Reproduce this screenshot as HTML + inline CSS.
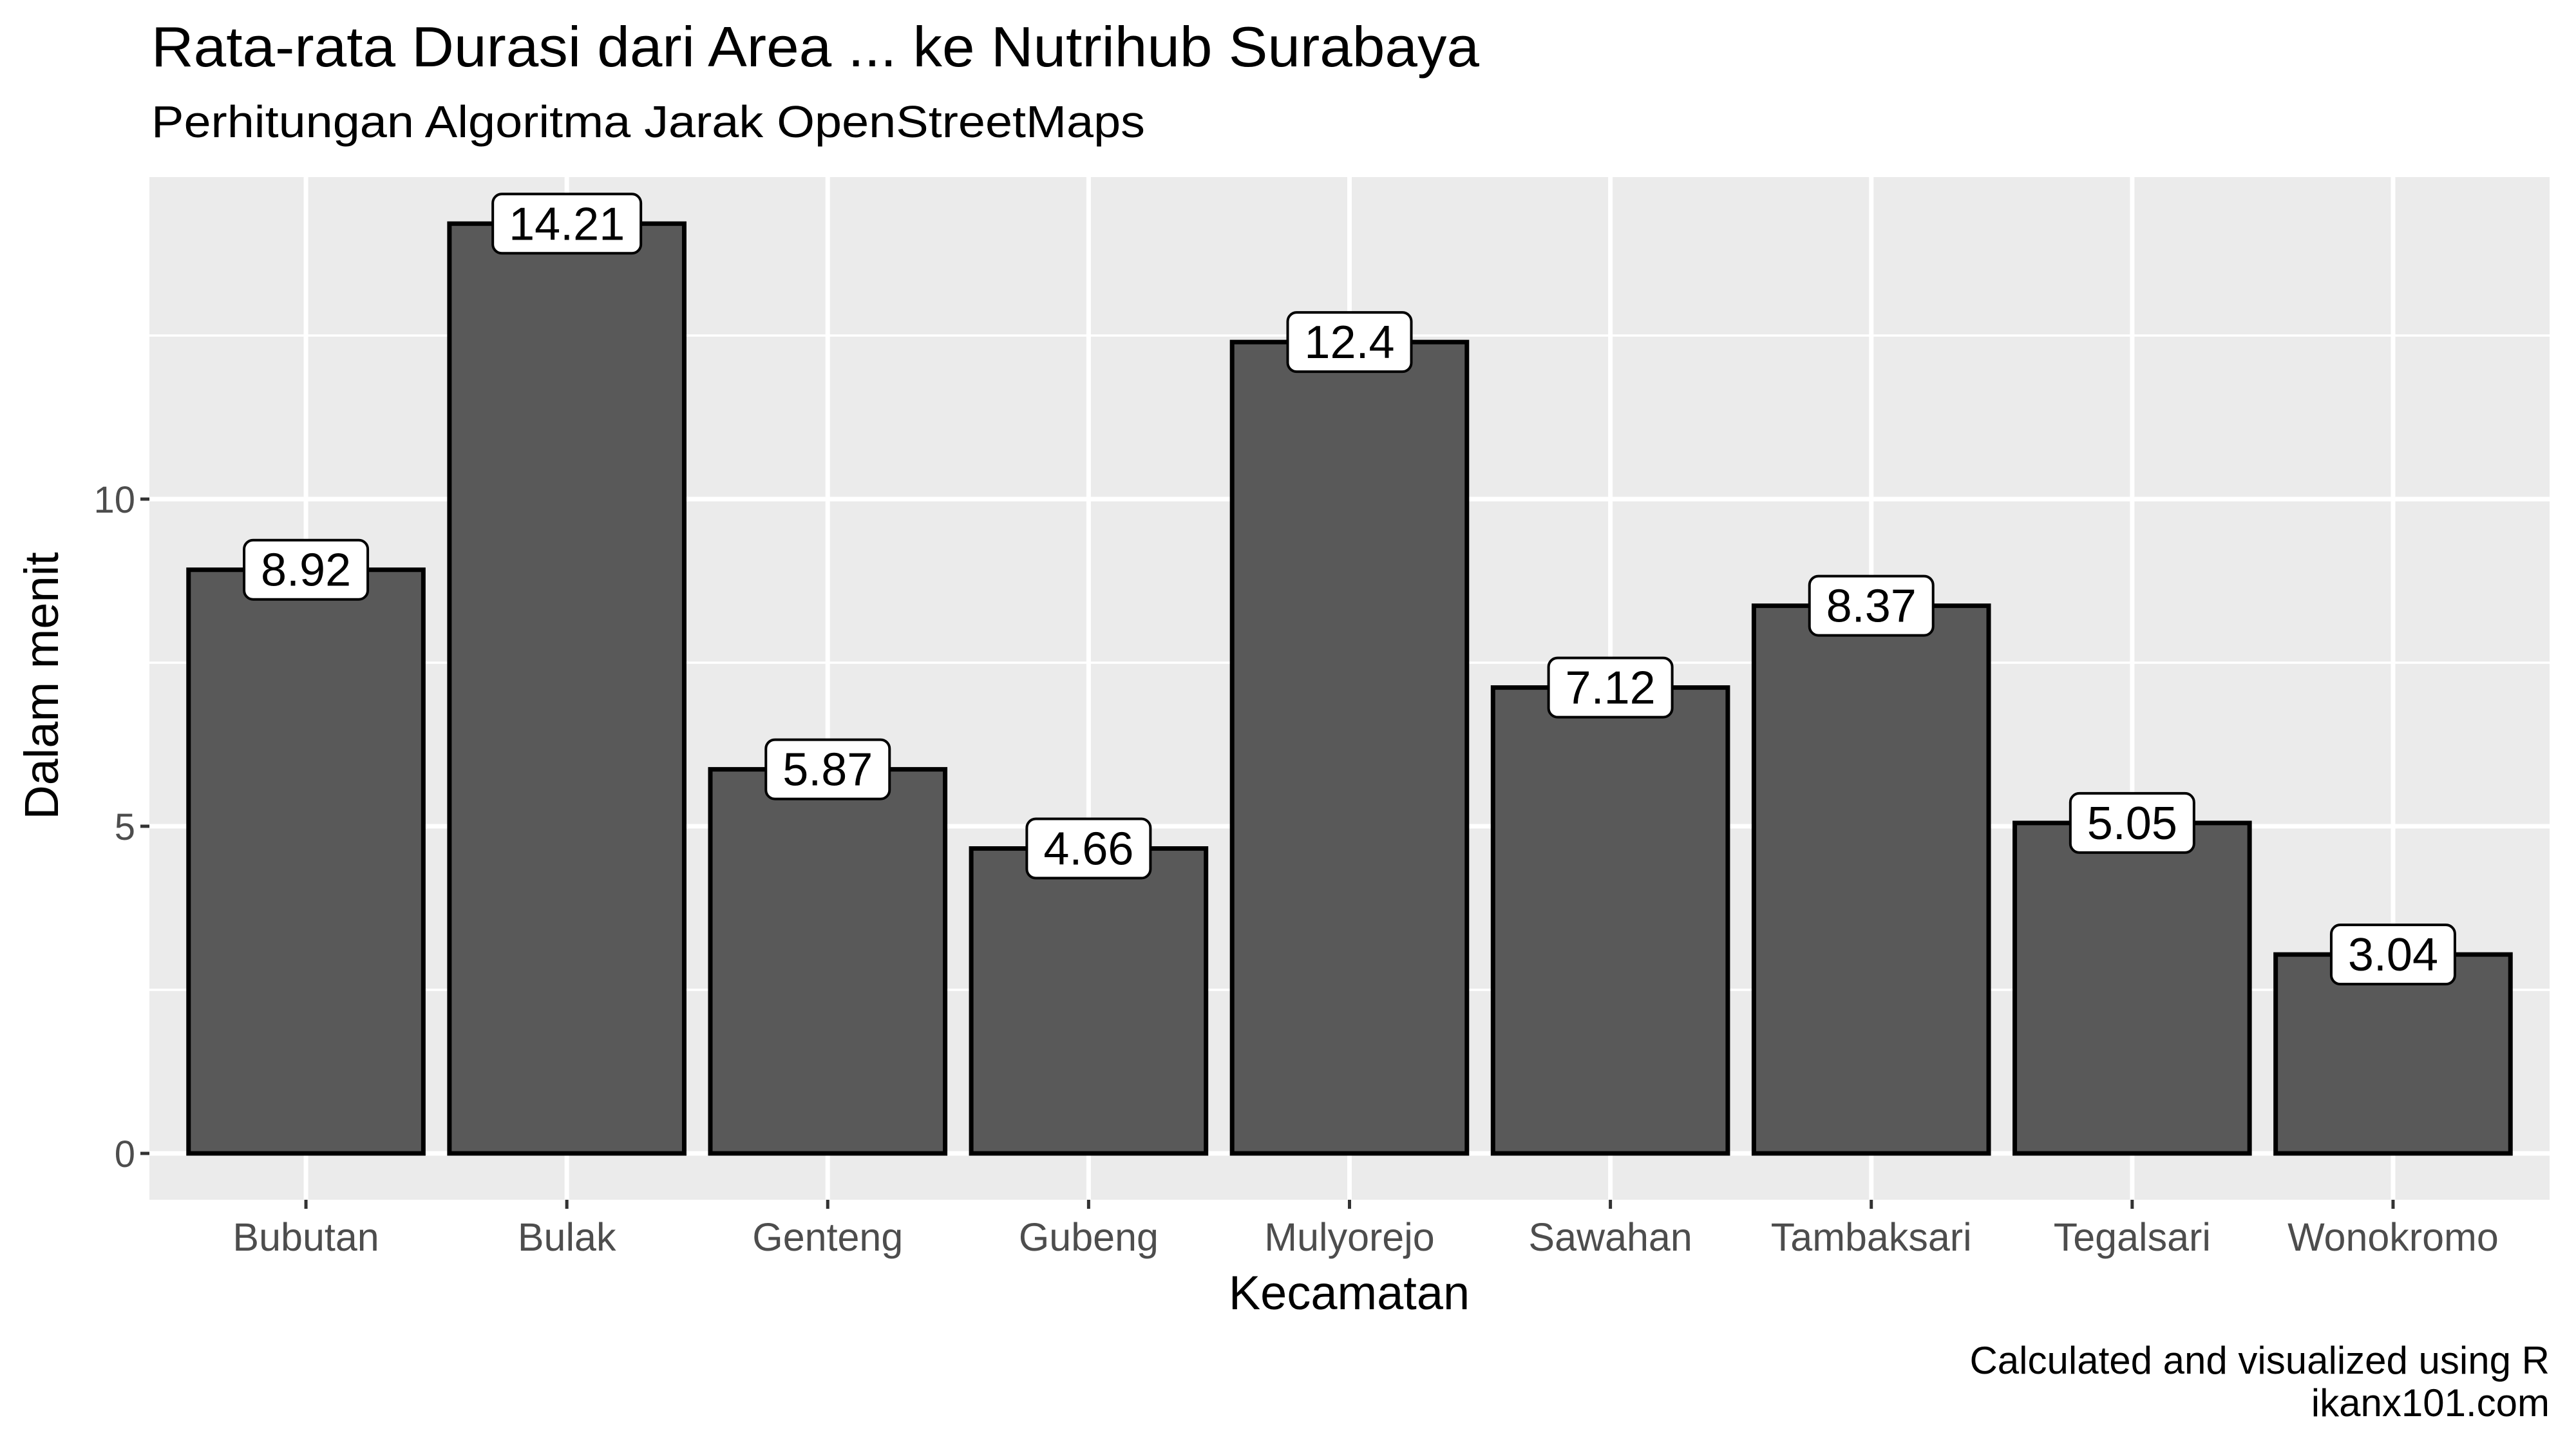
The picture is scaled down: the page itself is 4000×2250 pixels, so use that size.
<!DOCTYPE html>
<html><head><meta charset="utf-8"><style>html,body{margin:0;padding:0;background:#fff}svg{display:block}text{font-family:"Liberation Sans",Arial,sans-serif}</style></head>
<body>
<svg id="chart" width="4000" height="2250" viewBox="0 0 4000 2250" xmlns="http://www.w3.org/2000/svg">
<text x="235" y="103" font-size="88" fill="#000" textLength="2062" lengthAdjust="spacingAndGlyphs">Rata-rata Durasi dari Area ... ke Nutrihub Surabaya</text>
<text x="235" y="213" font-size="70" fill="#000" textLength="1543" lengthAdjust="spacingAndGlyphs">Perhitungan Algoritma Jarak OpenStreetMaps</text>
<rect x="232" y="275" width="3727" height="1588" fill="#EBEBEB"/>
<g id="grid"></g><g id="bars"></g><g id="labels"></g><g id="axes"></g>
<text x="2095" y="2033" font-size="74" text-anchor="middle" fill="#000">Kecamatan</text>
<text transform="translate(90,1065) rotate(-90)" font-size="74" text-anchor="middle" fill="#000">Dalam menit</text>
<text x="3959" y="2133" font-size="60" text-anchor="end" fill="#000">Calculated and visualized using R</text>
<text x="3959" y="2199" font-size="60" text-anchor="end" fill="#000">ikanx101.com</text>
</svg>
<script>
const categories = ["Bubutan","Bulak","Genteng","Gubeng","Mulyorejo","Sawahan","Tambaksari","Tegalsari","Wonokromo"];
const values = [8.92,14.21,5.87,4.66,12.4,7.12,8.37,5.05,3.04];
const valueLabels = ["8.92","14.21","5.87","4.66","12.4","7.12","8.37","5.05","3.04"];
const yTicks = [0,5,10];
const yMinor = [2.5,7.5,12.5];

const NS="http://www.w3.org/2000/svg";
const PL=232, PR=3959, PT=275, PB=1863;
const step=(PR-PL)/(categories.length+0.2);
function xPos(i){return PL+step*(0.6+i);}
function yPos(v){return 1791-v*101.6;}
function mk(tag,attrs,parent){const e=document.createElementNS(NS,tag);for(const k in attrs)e.setAttribute(k,attrs[k]);parent.appendChild(e);return e;}
const grid=document.getElementById('grid'),bars=document.getElementById('bars'),labels=document.getElementById('labels'),axes=document.getElementById('axes');
yMinor.forEach(v=>{const l=mk('line',{x1:PL,x2:PR,y1:yPos(v),y2:yPos(v),stroke:'#fff','stroke-width':3.5},grid);

});
yTicks.forEach(v=>{const l=mk('line',{x1:PL,x2:PR,y1:yPos(v),y2:yPos(v),stroke:'#fff','stroke-width':7},grid);


const t=mk('line',{x1:PL-14,x2:PL,y1:yPos(v),y2:yPos(v),stroke:'#333','stroke-width':5},axes);


const tx=mk('text',{x:PL-22,y:yPos(v)+21,'font-size':58,'text-anchor':'end',fill:'#4D4D4D'},axes);tx.textContent=String(v);

});
categories.forEach((c,i)=>{const x=xPos(i);
const g=mk('line',{x1:x,x2:x,y1:PT,y2:PB,stroke:'#fff','stroke-width':7},grid);


const w=step*0.9,top=yPos(values[i]),base=yPos(0);
const b=mk('rect',{x:x-w/2,y:top,width:w,height:base-top,fill:'#595959',stroke:'#000','stroke-width':7},bars);


const lab=valueLabels[i];const bw=lab.length*38+40,bh=92;
const r=mk('rect',{x:x-bw/2,y:top-bh/2,width:bw,height:bh,rx:14,fill:'#fff',stroke:'#000','stroke-width':4},labels);


const t=mk('text',{x:x,y:top+25,'font-size':72,'text-anchor':'middle',fill:'#000'},labels);t.textContent=lab;


const tk=mk('line',{x1:x,x2:x,y1:PB,y2:PB+14,stroke:'#333','stroke-width':5},axes);


const tl=mk('text',{x:x,y:1942,'font-size':61,'text-anchor':'middle',fill:'#4D4D4D'},axes);tl.textContent=c;

});
</script>
</body></html>
